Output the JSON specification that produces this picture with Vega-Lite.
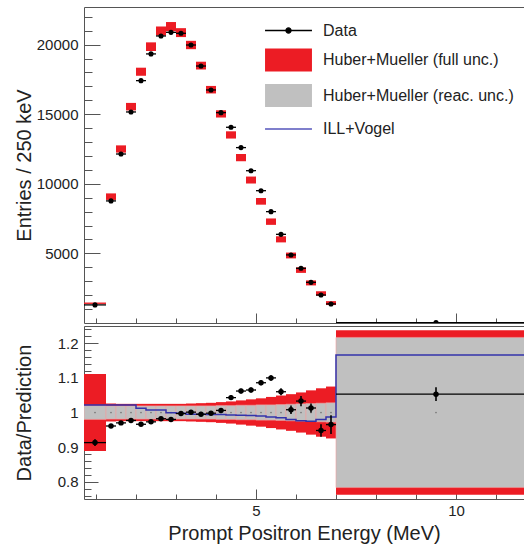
{
  "$schema": "https://vega.github.io/schema/vega-lite/v6.json",
  "padding": {"left": 14, "top": 7, "right": 0, "bottom": 2},
  "spacing": 2,
  "config": {
    "view": {"stroke": null},
    "font": "Liberation Sans",
    "axis": {"domainColor": "#555", "tickColor": "#555", "labelColor": "#222", "titleColor": "#222", "labelFont": "Liberation Sans", "titleFont": "Liberation Sans", "labelFontSize": 15, "titleFontSize": 20, "titleFontWeight": "normal", "grid": false, "tickWidth": 1, "domainWidth": 1},
    "legend": {"labelFont": "Liberation Sans", "labelFontSize": 16, "labelColor": "#222", "labelLimit": 400}
  },
  "datasets": {
    "bins": [
      {"lo": 0.7, "hi": 1.25, "c": 0.975, "d": 1300, "dlo": 1230, "dhi": 1370, "plo": 1370, "phi": 1470, "r": 0.913, "rlo": 0.903, "rhi": 0.923, "flo": 0.889, "fhi": 1.111, "glo": 0.98, "ghi": 1.02},
      {"lo": 1.25, "hi": 1.5, "c": 1.375, "d": 8770, "dlo": 8650, "dhi": 8890, "plo": 8840, "phi": 9310, "r": 0.961, "rlo": 0.956, "rhi": 0.966, "flo": 0.974, "fhi": 1.026, "glo": 0.981, "ghi": 1.019},
      {"lo": 1.5, "hi": 1.75, "c": 1.625, "d": 12140, "dlo": 12020, "dhi": 12260, "plo": 12240, "phi": 12760, "r": 0.970, "rlo": 0.965, "rhi": 0.975, "flo": 0.975, "fhi": 1.025, "glo": 0.981, "ghi": 1.019},
      {"lo": 1.75, "hi": 2.0, "c": 1.875, "d": 15160, "dlo": 15040, "dhi": 15280, "plo": 15270, "phi": 15810, "r": 0.977, "rlo": 0.972, "rhi": 0.982, "flo": 0.975, "fhi": 1.025, "glo": 0.981, "ghi": 1.019},
      {"lo": 2.0, "hi": 2.25, "c": 2.125, "d": 17410, "dlo": 17290, "dhi": 17530, "plo": 17760, "phi": 18340, "r": 0.966, "rlo": 0.961, "rhi": 0.971, "flo": 0.975, "fhi": 1.025, "glo": 0.981, "ghi": 1.019},
      {"lo": 2.25, "hi": 2.5, "c": 2.375, "d": 19330, "dlo": 19210, "dhi": 19450, "plo": 19540, "phi": 20160, "r": 0.973, "rlo": 0.968, "rhi": 0.978, "flo": 0.975, "fhi": 1.025, "glo": 0.981, "ghi": 1.019},
      {"lo": 2.5, "hi": 2.75, "c": 2.625, "d": 20620, "dlo": 20500, "dhi": 20740, "plo": 20660, "phi": 21300, "r": 0.982, "rlo": 0.977, "rhi": 0.987, "flo": 0.975, "fhi": 1.025, "glo": 0.981, "ghi": 1.019},
      {"lo": 2.75, "hi": 3.0, "c": 2.875, "d": 20880, "dlo": 20760, "dhi": 21000, "plo": 20960, "phi": 21620, "r": 0.980, "rlo": 0.975, "rhi": 0.985, "flo": 0.975, "fhi": 1.025, "glo": 0.981, "ghi": 1.019},
      {"lo": 3.0, "hi": 3.25, "c": 3.125, "d": 20810, "dlo": 20690, "dhi": 20930, "plo": 20540, "phi": 21180, "r": 0.997, "rlo": 0.992, "rhi": 1.002, "flo": 0.975, "fhi": 1.025, "glo": 0.981, "ghi": 1.019},
      {"lo": 3.25, "hi": 3.5, "c": 3.375, "d": 19970, "dlo": 19850, "dhi": 20090, "plo": 19670, "phi": 20270, "r": 1.001, "rlo": 0.996, "rhi": 1.006, "flo": 0.974, "fhi": 1.026, "glo": 0.981, "ghi": 1.019},
      {"lo": 3.5, "hi": 3.75, "c": 3.625, "d": 18460, "dlo": 18340, "dhi": 18580, "plo": 18210, "phi": 18770, "r": 0.995, "rlo": 0.990, "rhi": 1.000, "flo": 0.973, "fhi": 1.027, "glo": 0.981, "ghi": 1.019},
      {"lo": 3.75, "hi": 4.0, "c": 3.875, "d": 16740, "dlo": 16620, "dhi": 16860, "plo": 16490, "phi": 17030, "r": 0.998, "rlo": 0.993, "rhi": 1.003, "flo": 0.972, "fhi": 1.028, "glo": 0.981, "ghi": 1.019},
      {"lo": 4.0, "hi": 4.25, "c": 4.125, "d": 15110, "dlo": 14990, "dhi": 15230, "plo": 14760, "phi": 15280, "r": 1.006, "rlo": 1.001, "rhi": 1.011, "flo": 0.970, "fhi": 1.030, "glo": 0.980, "ghi": 1.020},
      {"lo": 4.25, "hi": 4.5, "c": 4.375, "d": 14060, "dlo": 13940, "dhi": 14180, "plo": 13250, "phi": 13770, "r": 1.043, "rlo": 1.036, "rhi": 1.050, "flo": 0.968, "fhi": 1.032, "glo": 0.980, "ghi": 1.020},
      {"lo": 4.5, "hi": 4.75, "c": 4.625, "d": 12600, "dlo": 12480, "dhi": 12720, "plo": 11620, "phi": 12140, "r": 1.062, "rlo": 1.055, "rhi": 1.069, "flo": 0.965, "fhi": 1.035, "glo": 0.979, "ghi": 1.021},
      {"lo": 4.75, "hi": 5.0, "c": 4.875, "d": 10940, "dlo": 10830, "dhi": 11050, "plo": 10020, "phi": 10520, "r": 1.065, "rlo": 1.058, "rhi": 1.072, "flo": 0.962, "fhi": 1.038, "glo": 0.979, "ghi": 1.021},
      {"lo": 5.0, "hi": 5.25, "c": 5.125, "d": 9505, "dlo": 9400, "dhi": 9610, "plo": 8500, "phi": 8980, "r": 1.086, "rlo": 1.079, "rhi": 1.093, "flo": 0.959, "fhi": 1.041, "glo": 0.978, "ghi": 1.022},
      {"lo": 5.25, "hi": 5.5, "c": 5.375, "d": 8000, "dlo": 7900, "dhi": 8100, "plo": 7050, "phi": 7510, "r": 1.100, "rlo": 1.092, "rhi": 1.108, "flo": 0.955, "fhi": 1.045, "glo": 0.978, "ghi": 1.022},
      {"lo": 5.5, "hi": 5.75, "c": 5.625, "d": 6370, "dlo": 6280, "dhi": 6460, "plo": 5790, "phi": 6230, "r": 1.060, "rlo": 1.050, "rhi": 1.070, "flo": 0.951, "fhi": 1.049, "glo": 0.977, "ghi": 1.023},
      {"lo": 5.75, "hi": 6.0, "c": 5.875, "d": 4890, "dlo": 4810, "dhi": 4970, "plo": 4640, "phi": 5060, "r": 1.008, "rlo": 0.996, "rhi": 1.020, "flo": 0.947, "fhi": 1.053, "glo": 0.976, "ghi": 1.024},
      {"lo": 6.0, "hi": 6.25, "c": 6.125, "d": 3930, "dlo": 3860, "dhi": 4000, "plo": 3600, "phi": 4000, "r": 1.033, "rlo": 1.018, "rhi": 1.048, "flo": 0.942, "fhi": 1.058, "glo": 0.975, "ghi": 1.025},
      {"lo": 6.25, "hi": 6.5, "c": 6.375, "d": 2920, "dlo": 2860, "dhi": 2980, "plo": 2700, "phi": 3060, "r": 1.013, "rlo": 1.000, "rhi": 1.026, "flo": 0.936, "fhi": 1.064, "glo": 0.974, "ghi": 1.026},
      {"lo": 6.5, "hi": 6.75, "c": 6.625, "d": 2010, "dlo": 1960, "dhi": 2060, "plo": 1960, "phi": 2280, "r": 0.948, "rlo": 0.930, "rhi": 0.966, "flo": 0.930, "fhi": 1.070, "glo": 0.973, "ghi": 1.027},
      {"lo": 6.75, "hi": 7.0, "c": 6.875, "d": 1370, "dlo": 1320, "dhi": 1420, "plo": 1290, "phi": 1570, "r": 0.965, "rlo": 0.938, "rhi": 0.992, "flo": 0.925, "fhi": 1.075, "glo": 0.972, "ghi": 1.028},
      {"lo": 7.0, "hi": 12.0, "c": 9.5, "d": 25, "dlo": 20, "dhi": 30, "plo": 20, "phi": 30, "r": 1.053, "rlo": 1.033, "rhi": 1.073, "flo": 0.762, "fhi": 1.238, "glo": 0.783, "ghi": 1.217}
    ],
    "ill": [
      {"e": 0.7, "v": 1.022}, {"e": 1.25, "v": 1.022}, {"e": 1.5, "v": 1.022}, {"e": 1.75, "v": 1.022},
      {"e": 2.0, "v": 1.012}, {"e": 2.25, "v": 1.007}, {"e": 2.5, "v": 1.007}, {"e": 2.75, "v": 0.999},
      {"e": 3.0, "v": 0.998}, {"e": 3.25, "v": 0.995}, {"e": 3.5, "v": 0.995}, {"e": 3.75, "v": 0.994},
      {"e": 4.0, "v": 0.994}, {"e": 4.25, "v": 0.993}, {"e": 4.5, "v": 0.992}, {"e": 4.75, "v": 0.991},
      {"e": 5.0, "v": 0.99}, {"e": 5.25, "v": 0.987}, {"e": 5.5, "v": 0.985}, {"e": 5.75, "v": 0.98},
      {"e": 6.0, "v": 0.976}, {"e": 6.25, "v": 0.975}, {"e": 6.5, "v": 0.98}, {"e": 6.75, "v": 0.987},
      {"e": 7.0, "v": 1.166}, {"e": 12.0, "v": 1.166}
    ]
  },
  "vconcat": [
    {
      "width": 440,
      "height": 316,
      "data": {"name": "bins"},
      "resolve": {"axis": {"x": "independent", "y": "independent"}},
      "layer": [
        {
          "mark": {"type": "rect", "clip": true},
          "encoding": {
            "x": {"field": "lo", "type": "quantitative", "scale": {"domain": [0.7, 11.7], "nice": false, "zero": false},
                  "axis": {"orient": "bottom", "values": [5, 10], "ticks": false, "labels": false, "domain": true, "title": null}},
            "x2": {"field": "hi"},
            "y": {"field": "plo", "type": "quantitative", "scale": {"domain": [0, 22700], "nice": false, "zero": false},
                  "axis": {"orient": "left", "values": [5000, 10000, 15000, 20000], "ticks": false, "labelPadding": 6, "format": "d", "title": "Entries / 250 keV", "titlePadding": 1, "minExtent": 49, "maxExtent": 49}},
            "y2": {"field": "phi"},
            "color": {"datum": "Huber+Mueller (full unc.)", "type": "nominal",
              "scale": {"domain": ["Data", "Huber+Mueller (full unc.)", "Huber+Mueller (reac. unc.)", "ILL+Vogel"], "range": ["#000000", "#ec1c24", "#c0c0c0", "#3333aa"]},
              "legend": {"orient": "none", "legendX": 192, "legendY": 11, "title": null, "padding": 0, "symbolSize": 529, "labelOffset": 22, "rowPadding": 6.5,
                "encode": {"symbols": {"update": {
                  "shape": [
                    {"test": "datum.value === 'Data'", "value": "M-2.04,0H2.04M0.22,0A0.22,0.22,0,1,1,-0.22,0A0.22,0.22,0,1,1,0.22,0"},
                    {"test": "datum.value === 'ILL+Vogel'", "value": "M-2.04,0H2.04"},
                    {"value": "M-2.04,-1H2.04V1H-2.04Z"}
                  ],
                  "fill": [
                    {"test": "datum.value === 'Data'", "value": "#000000"},
                    {"test": "datum.value === 'ILL+Vogel'", "value": "transparent"},
                    {"test": "datum.value === 'Huber+Mueller (full unc.)'", "value": "#ec1c24"},
                    {"value": "#c0c0c0"}
                  ],
                  "stroke": [
                    {"test": "datum.value === 'Data'", "value": "#000000"},
                    {"test": "datum.value === 'ILL+Vogel'", "value": "#5555bb"},
                    {"value": "transparent"}
                  ],
                  "strokeWidth": {"value": 1.3},
                  "opacity": {"value": 1}
                }}}
              }
            }
          }
        },
        {
          "mark": {"type": "rule", "color": "#000000", "strokeWidth": 1.3, "clip": true},
          "encoding": {
            "x": {"field": "lo", "type": "quantitative", "scale": {"domain": [0.7, 11.7], "nice": false, "zero": false},
                  "axis": {"orient": "bottom", "values": [1, 2, 3, 4, 6, 7, 8, 9, 11], "tickSize": -5, "labels": false, "domain": false, "title": null}},
            "x2": {"field": "hi"},
            "y": {"field": "d", "type": "quantitative", "scale": {"domain": [0, 22700], "nice": false, "zero": false},
                  "axis": {"orient": "left", "values": [1000, 2000, 3000, 4000, 6000, 7000, 8000, 9000, 11000, 12000, 13000, 14000, 16000, 17000, 18000, 19000, 21000, 22000], "tickSize": -8, "labels": false, "domain": false, "title": null, "minExtent": 0, "maxExtent": 0}}
          }
        },
        {
          "mark": {"type": "rule", "color": "#000000", "strokeWidth": 1.6, "clip": true},
          "encoding": {
            "x": {"field": "c", "type": "quantitative", "scale": {"domain": [0.7, 11.7], "nice": false, "zero": false},
                  "axis": {"orient": "top", "ticks": false, "labels": false, "domain": true, "title": null}},
            "y": {"field": "dlo", "type": "quantitative", "scale": {"domain": [0, 22700], "nice": false, "zero": false},
                  "axis": {"orient": "left", "values": [5000, 10000, 15000, 20000], "tickSize": -16, "labels": false, "domain": false, "title": null, "minExtent": 0, "maxExtent": 0}},
            "y2": {"field": "dhi"}
          }
        },
        {
          "mark": {"type": "point", "filled": true, "color": "#000000", "size": 26, "opacity": 1, "clip": true},
          "encoding": {
            "x": {"field": "c", "type": "quantitative", "scale": {"domain": [0.7, 11.7], "nice": false, "zero": false},
                  "axis": {"orient": "bottom", "values": [5, 10], "tickSize": -10, "labels": false, "domain": false, "title": null}},
            "y": {"field": "d", "type": "quantitative", "scale": {"domain": [0, 22700], "nice": false, "zero": false}, "axis": null}
          }
        }
      ]
    },
    {
      "width": 440,
      "height": 173,
      "resolve": {"axis": {"x": "independent", "y": "independent"}},
      "layer": [
        {
          "data": {"name": "bins"},
          "mark": {"type": "rect", "color": "#ec1c24", "clip": true},
          "encoding": {
            "x": {"field": "lo", "type": "quantitative", "scale": {"domain": [0.7, 11.7], "nice": false, "zero": false},
                  "axis": {"orient": "bottom", "values": [5, 10], "ticks": false, "labelPadding": 4, "title": "Prompt Positron Energy (MeV)", "titlePadding": 4, "minExtent": 20, "maxExtent": 20}},
            "x2": {"field": "hi"},
            "y": {"field": "flo", "type": "quantitative", "scale": {"domain": [0.75, 1.25], "nice": false, "zero": false},
                  "axis": {"orient": "left", "values": [0.8, 0.9, 1, 1.1, 1.2], "ticks": false, "labelPadding": 6, "format": "~g", "title": "Data/Prediction", "titlePadding": 1, "minExtent": 49, "maxExtent": 49}},
            "y2": {"field": "fhi"}
          }
        },
        {
          "data": {"name": "bins"},
          "mark": {"type": "rect", "color": "#c0c0c0", "stroke": "#f2a0a0", "strokeWidth": 0.6, "clip": true},
          "encoding": {
            "x": {"field": "lo", "type": "quantitative", "scale": {"domain": [0.7, 11.7], "nice": false, "zero": false},
                  "axis": {"orient": "bottom", "values": [1, 2, 3, 4, 6, 7, 8, 9, 11], "tickSize": -5, "labels": false, "domain": false, "title": null}},
            "x2": {"field": "hi"},
            "y": {"field": "glo", "type": "quantitative", "scale": {"domain": [0.75, 1.25], "nice": false, "zero": false},
                  "axis": {"orient": "left", "values": [0.76, 0.78, 0.82, 0.84, 0.86, 0.88, 0.92, 0.94, 0.96, 0.98, 1.02, 1.04, 1.06, 1.08, 1.12, 1.14, 1.16, 1.18, 1.22, 1.24], "tickSize": -7, "labels": false, "domain": false, "title": null, "minExtent": 0, "maxExtent": 0}},
            "y2": {"field": "ghi"}
          }
        },
        {
          "data": {"name": "bins"},
          "mark": {"type": "point", "filled": true, "color": "#777777", "size": 3, "opacity": 1, "clip": true},
          "encoding": {
            "x": {"field": "c", "type": "quantitative", "scale": {"domain": [0.7, 11.7], "nice": false, "zero": false},
                  "axis": {"orient": "top", "ticks": false, "labels": false, "domain": true, "title": null}},
            "y": {"datum": 1, "type": "quantitative", "scale": {"domain": [0.75, 1.25], "nice": false, "zero": false},
                  "axis": {"orient": "left", "values": [0.8, 0.9, 1, 1.1, 1.2], "tickSize": -14, "labels": false, "domain": false, "title": null, "minExtent": 0, "maxExtent": 0}}
          }
        },
        {
          "data": {"name": "ill"},
          "mark": {"type": "line", "interpolate": "step-after", "color": "#3333aa", "strokeWidth": 1.5, "clip": true},
          "encoding": {
            "x": {"field": "e", "type": "quantitative", "scale": {"domain": [0.7, 11.7], "nice": false, "zero": false},
                  "axis": {"orient": "bottom", "values": [5, 10], "tickSize": -10, "labels": false, "domain": false, "title": null}},
            "y": {"field": "v", "type": "quantitative", "scale": {"domain": [0.75, 1.25], "nice": false, "zero": false}, "axis": null}
          }
        },
        {
          "data": {"name": "bins"},
          "mark": {"type": "rule", "color": "#000000", "strokeWidth": 1.3, "clip": true},
          "encoding": {
            "x": {"field": "lo", "type": "quantitative", "scale": {"domain": [0.7, 11.7], "nice": false, "zero": false}, "axis": null},
            "x2": {"field": "hi"},
            "y": {"field": "r", "type": "quantitative", "scale": {"domain": [0.75, 1.25], "nice": false, "zero": false}, "axis": null}
          }
        },
        {
          "data": {"name": "bins"},
          "mark": {"type": "rule", "color": "#000000", "strokeWidth": 1.6, "clip": true},
          "encoding": {
            "x": {"field": "c", "type": "quantitative", "scale": {"domain": [0.7, 11.7], "nice": false, "zero": false}, "axis": null},
            "y": {"field": "rlo", "type": "quantitative", "scale": {"domain": [0.75, 1.25], "nice": false, "zero": false}, "axis": null},
            "y2": {"field": "rhi"}
          }
        },
        {
          "data": {"name": "bins"},
          "mark": {"type": "point", "filled": true, "color": "#000000", "size": 30, "opacity": 1, "clip": true},
          "encoding": {
            "x": {"field": "c", "type": "quantitative", "scale": {"domain": [0.7, 11.7], "nice": false, "zero": false}, "axis": null},
            "y": {"field": "r", "type": "quantitative", "scale": {"domain": [0.75, 1.25], "nice": false, "zero": false}, "axis": null}
          }
        }
      ]
    }
  ]
}
